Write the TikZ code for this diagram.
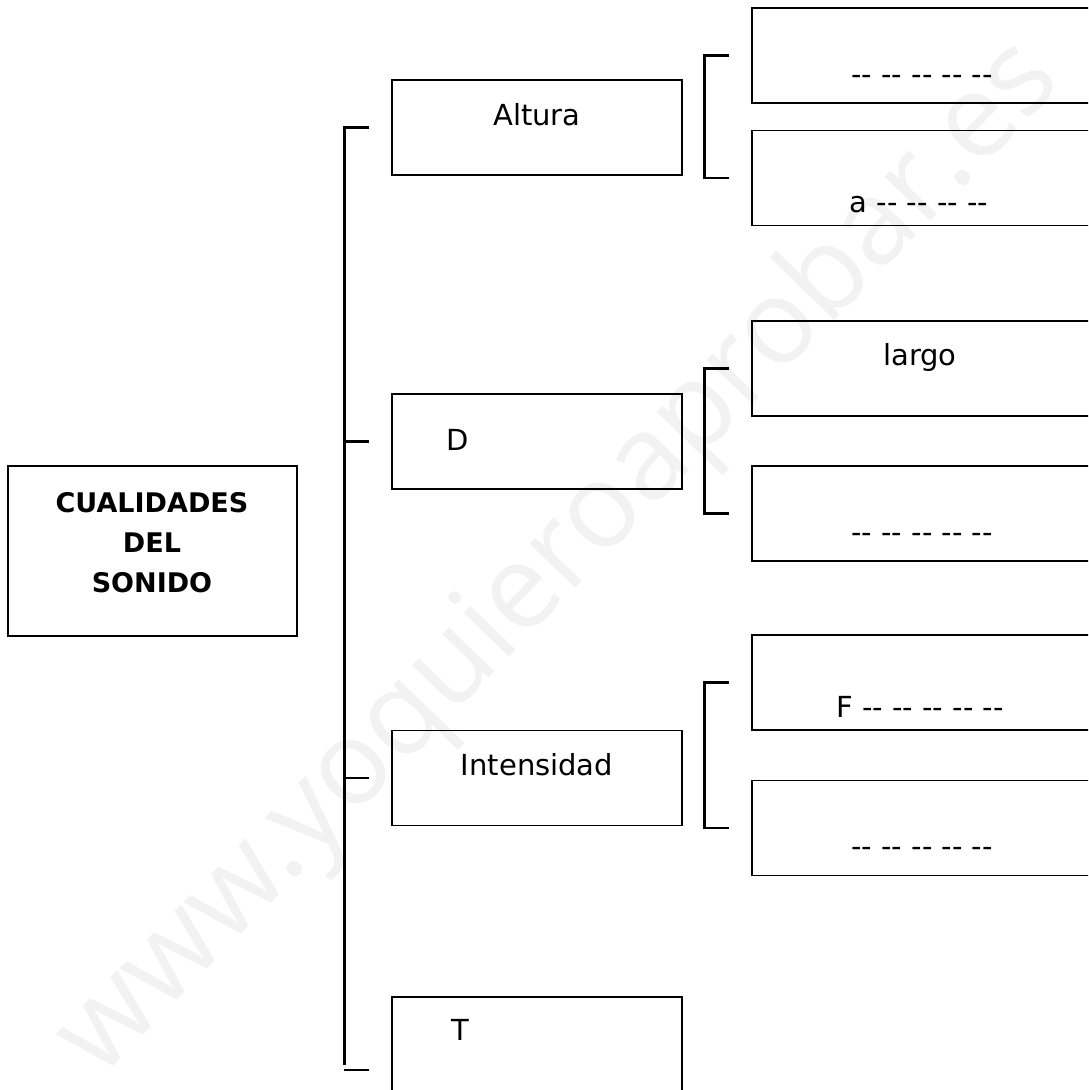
\documentclass[tikz,border=0pt]{standalone}
\usepackage{fontspec}
\setmainfont{DejaVu Sans}
\newfontfamily\marcafont{Open Sans}
\usepackage{tikz}
\usetikzlibrary{calc}
\def\medcol{537}
\def\dercol{932}
\tikzset{
	every node/.style={
		font=\fontsize{29}{35}\selectfont
	},
	caja/.style={
		shape=rectangle,
		minimum width=290pt,
		minimum height=95pt,
		line width=1.4pt,
		draw,
	},
	cajader/.style={
		caja,
		minimum width=360pt,
	},
	titulo/.style={
		font=\fontsize{27}{40}\selectfont\bfseries,
		align=center,
	},
	marca/.style={
		font=\marcafont\fontsize{118}{118}\selectfont,
		text=black!5,
		rotate=46,
	},
	llave/.style={line width=2.6pt},
}

\begin{document}
\begin{tikzpicture}[x=1pt,y=-1pt]
	\clip (0,0) rectangle (1088,1090);
	\node[marca] (web) at (560,560) {www.yoquieroaprobar.es};
	
	\node[caja, minimum width=289pt, minimum height=170pt] (cual) at (152.5,551) {};
	\node[titulo] (cualtxt) at (152,543) {CUALIDADES\\DEL\\SONIDO};
	
	\foreach \name / \y in {alt/127.5, dur/441.5, int/778, tim/1044.5}
	\node[caja] (\name) at (\medcol,\y) {};
	
	\foreach \name / \y in {a1/55.5, a2/178, d1/368.5, d2/513.5, i1/682.5, i2/828}
	\node[cajader] (\name) at (\dercol,\y) {};
	
	\node (alttxt) at (537,115) {Altura};
	\node (durtxt) at (458,440) {D};
	\node (inttxt) at (537,765) {Intensidad};
	\node (timtxt) at (460,1030) {T};
	
	\node (a1txt) at (922,80) {-{}- -{}- -{}- -{}- -{}-};
	\node (a2txt) at (919,205) {a -{}- -{}- -{}- -{}-};
	\node (d1txt) at (920,357) {largo};
	\node (d2txt) at (922,538) {-{}- -{}- -{}- -{}- -{}-};
	\node (i1txt) at (920,707) {F -{}- -{}- -{}- -{}- -{}-};
	\node (i2txt) at (922,852) {-{}- -{}- -{}- -{}- -{}-};
	
	\draw[llave] ($(alt.west)+(-22,0)$) -- ++(-25,0) -- ($(tim.west)+(-47,20)$);
	\foreach \name in {dur,int}
	\draw[llave] ($(\name.west)+(-47,0)$) -- ++(25,0);
	\draw[llave] ($(tim.west)+(-47,25.5)$) -- ++(25,0);
	
	\foreach \top / \bot in {a1/a2, d1/d2, i1/i2}
	\draw[llave] ($(\top.west)+(-22,0)$) -- ++(-25,0) |- ($(\bot.west)+(-22,0)$);
\end{tikzpicture}
\end{document}
